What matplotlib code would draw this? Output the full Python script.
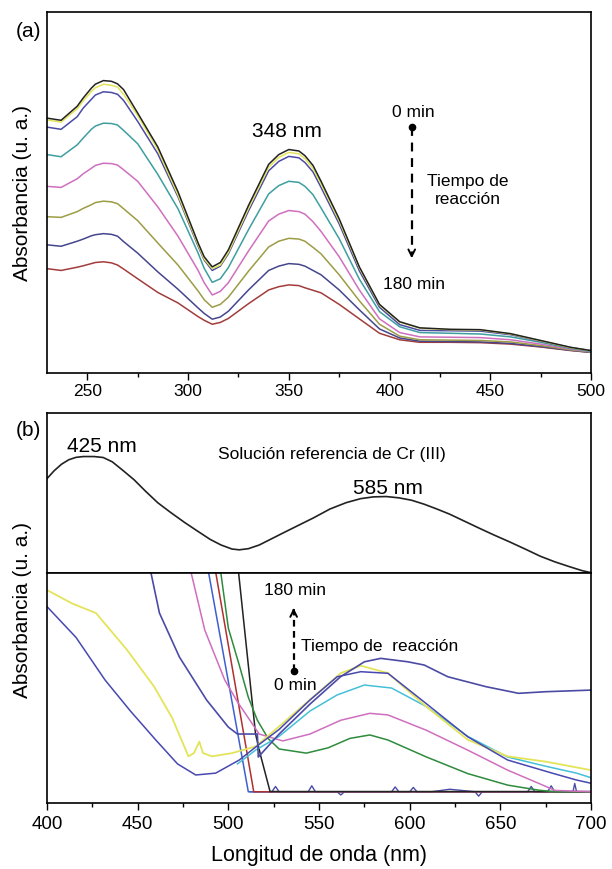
import matplotlib
matplotlib.use('Agg')
import matplotlib.pyplot as plt
from matplotlib.ticker import MultipleLocator

plt.rcParams['font.family'] = ['Liberation Sans', 'DejaVu Sans']

# ---- panel (a): spectra during reaction, 0 min (top) -> 180 min (bottom)
wl_a = [230, 237, 245, 248, 252, 254, 258, 262, 265, 268,
        275, 285, 295, 305, 308, 312, 316, 320, 330, 340,
        345, 350, 355, 358, 362, 366, 375, 385, 395, 405,
        415, 430, 445, 460, 475, 490, 500]
a_black = [.706, .700, .739, .762, .789, .800, .810, .808, .801, .785,
           .720, .626, .502, .360, .322, .294, .306, .341, .464, .578,
           .605, .619, .615, .602, .575, .531, .427, .294, .190, .142,
           .125, .121, .120, .109, .090, .071, .062]
a_yellow = [.701, .695, .732, .754, .780, .790, .800, .797, .792, .772,
            .713, .619, .493, .355, .316, .289, .299, .334, .456, .570,
            .597, .611, .607, .594, .567, .524, .421, .291, .188, .141,
            .124, .120, .119, .108, .089, .070, .062]
a_navy = [.681, .675, .710, .734, .758, .770, .779, .777, .772, .755,
          .697, .607, .488, .351, .313, .284, .296, .330, .449, .560,
          .586, .600, .596, .583, .557, .514, .413, .283, .182, .134,
          .118, .117, .116, .106, .088, .070, .062]
a_teal = [.605, .599, .632, .651, .675, .684, .692, .691, .687, .672,
          .635, .550, .455, .332, .290, .251, .261, .292, .397, .496,
          .519, .531, .528, .517, .494, .457, .372, .260, .170, .128,
          .112, .110, .108, .100, .085, .068, .060]
a_pink = [.517, .514, .538, .552, .567, .575, .581, .580, .576, .563,
          .531, .460, .379, .284, .250, .216, .226, .250, .338, .421,
          .440, .450, .447, .440, .419, .392, .322, .230, .150, .112,
          .100, .099, .098, .092, .080, .066, .059]
a_olive = [.433, .431, .447, .456, .466, .472, .476, .474, .469, .455,
           .422, .360, .299, .227, .203, .182, .190, .210, .282, .349,
           .365, .373, .371, .365, .348, .330, .272, .200, .135, .102,
           .092, .091, .090, .086, .076, .064, .058]
a_dkblue = [.355, .351, .365, .371, .380, .383, .386, .384, .379, .364,
            .332, .280, .232, .180, .165, .149, .155, .171, .230, .284,
            .296, .303, .301, .296, .284, .272, .230, .175, .122, .097,
            .088, .087, .086, .082, .073, .063, .057]
a_red = [.289, .284, .293, .297, .303, .306, .308, .305, .299, .288,
         .261, .223, .194, .156, .146, .135, .140, .151, .192, .230,
         .239, .244, .242, .236, .229, .222, .190, .150, .110, .092,
         .085, .085, .084, .080, .072, .062, .057]

# ---- panel (b) top: Cr(III) reference solution
wl_ref = [400, 404, 408, 412, 416, 420, 426, 431, 436, 442, 448, 454, 461, 468, 476, 483,
          490, 496, 502, 506, 511, 517, 524, 531, 539, 547, 556, 565, 573, 580, 587, 594,
          601, 608, 615, 622, 630, 638, 646, 655, 664, 672, 680, 688, 695, 700]
abs_ref = [.590, .640, .680, .708, .723, .728, .728, .722, .695, .640, .583, .515, .440, .380, .315, .262,
           .210, .175, .150, .145, .152, .175, .215, .255, .300, .345, .400, .440, .465, .476, .478, .470,
           .455, .430, .400, .368, .325, .282, .240, .195, .148, .105, .070, .040, .015, .002]

# ---- panel (b) bottom: spectra during reaction
wl_y = [400, 414, 427, 444, 459, 469, 478, 481, 484, 486, 491, 502, 515, 528, 545, 562, 573, 588, 609, 632, 654, 675, 700]
b_yellow = [0.926, 0.867, 0.826, 0.667, 0.507, 0.370, 0.203, 0.217, 0.267, 0.217, 0.203, 0.217, 0.246, 0.333,
            0.449, 0.565, 0.597, 0.565, 0.420, 0.275, 0.203, 0.180, 0.143]
wl_bl = [400, 416, 432, 446, 460, 472, 482, 493, 506, 515, 528, 545, 560, 573, 588, 609, 632, 654, 679, 692, 700]
b_blue = [0.854, 0.720, 0.535, 0.400, 0.274, 0.170, 0.122, 0.130, 0.187, 0.243, 0.320, 0.448, 0.549, 0.571,
          0.564, 0.433, 0.288, 0.187, 0.129, 0.100, 0.086]
wl_nv = [456, 462, 473, 488, 500, 505, 516, 516.5, 528, 545, 562, 575, 584, 599, 608, 621, 642, 660, 675, 700]
b_navy = [1.05, 0.826, 0.635, 0.448, 0.330, 0.300, 0.300, 0.200, 0.300, 0.430, 0.550, 0.614, 0.629, 0.614,
          0.600, 0.549, 0.506, 0.477, 0.484, 0.491]
wl_pk = [478, 487, 498, 505, 511, 517, 530, 545, 562, 578, 588, 609, 632, 654, 671, 680, 700]
b_pink = [1.05, 0.752, 0.535, 0.440, 0.370, 0.300, 0.270, 0.300, 0.360, 0.390, 0.383, 0.317, 0.230, 0.143,
          0.086, 0.055, 0.049]
wl_gr = [495, 500, 506, 511, 516, 522, 528, 543, 555, 567, 578, 588, 609, 632, 654, 671, 680, 700]
b_green = [1.05, 0.760, 0.600, 0.460, 0.360, 0.280, 0.235, 0.217, 0.240, 0.281, 0.296, 0.274, 0.201, 0.128,
           0.078, 0.056, 0.049, 0.049]
wl_cy = [505, 515, 528, 545, 560, 575, 590, 609, 632, 654, 675, 692, 700]
b_cyan = [0.170, 0.230, 0.290, 0.400, 0.470, 0.513, 0.500, 0.420, 0.290, 0.200, 0.160, 0.130, 0.110]
wl_b2 = [488, 511, 700]
b_blue2 = [1.05, 0.049, 0.049]
wl_rd = [492, 514, 700]
b_red = [1.05, 0.049, 0.049]
wl_bk = [505, 515, 518, 523, 700]
b_black = [1.05, 0.300, 0.200, 0.050, 0.050]
wl_base = [512, 524, 526, 528, 535, 544, 546, 548, 560, 562, 564, 572, 590, 592, 594, 600, 602, 604,
           612, 622, 636, 638, 640, 650, 665, 667, 669, 676, 678, 680, 690, 691, 692, 700]
b_base = [0.049, 0.049, 0.072, 0.049, 0.049, 0.049, 0.075, 0.049, 0.049, 0.035, 0.049, 0.049, 0.049, 0.070,
          0.049, 0.049, 0.068, 0.049, 0.049, 0.060, 0.049, 0.030, 0.049, 0.049, 0.049, 0.072, 0.049,
          0.049, 0.075, 0.049, 0.049, 0.085, 0.049, 0.049]

c_black = '#222222'
c_yellow = '#e4e45a'
c_navy = '#4b4ba6'
c_teal = '#3e9ea0'
c_pink = '#cf6fbf'
c_olive = '#9c9c45'
c_dkblue = '#46468e'
c_red = '#a23c3c'
c_blue = '#3d5fd0'
c_green = '#2e8b3c'
c_cyan = '#45c0d8'

fig = plt.figure(figsize=(6.12, 8.69), dpi=100)

# ---------------- (a)
ax = fig.add_axes([0.0768, 0.5708, 0.889, 0.4154])
for y, c in [(a_red, c_red), (a_dkblue, c_dkblue), (a_olive, c_olive), (a_pink, c_pink),
             (a_teal, c_teal), (a_navy, c_navy), (a_yellow, c_yellow), (a_black, c_black)]:
    ax.plot(wl_a, y, color=c, lw=1.1)
ax.set_xlim(230, 500)
ax.set_ylim(0, 1)
ax.set_yticks([])
ax.xaxis.set_major_locator(MultipleLocator(50))
ax.xaxis.set_minor_locator(MultipleLocator(25))
ax.tick_params(axis='x', which='major', direction='out', length=5, width=1, labelsize=12.5, pad=3)
ax.tick_params(axis='x', which='minor', direction='out', length=3, width=1)
for s in ax.spines.values():
    s.set_linewidth(1.2)
ax.text(349, 0.668, '348 nm', fontsize=15, ha='center', va='center')
ax.text(412, 0.722, '0 min', fontsize=12.5, ha='center', va='center')
ax.plot([411, 411], [0.682, 0.33], color='black', lw=1.6, ls=(0, (4, 3)))
ax.plot([411], [0.682], 'o', color='black', ms=4.5)
ax.annotate('', xy=(411, 0.31), xytext=(411, 0.34),
            arrowprops=dict(arrowstyle='->', color='black', lw=1.4, mutation_scale=12))
ax.text(439, 0.505, 'Tiempo de\nreacción', fontsize=12.5, ha='center', va='center', linespacing=1.3)
ax.text(412, 0.246, '180 min', fontsize=12.5, ha='center', va='center')
fig.text(0.026, 0.964, '(a)', fontsize=15, ha='left', va='center')
fig.text(0.036, 0.778, 'Absorbancia (u. a.)', fontsize=15, rotation=90, ha='center', va='center')

# ---------------- (b) top
ax1 = fig.add_axes([0.0768, 0.3406, 0.889, 0.1841])
ax1.plot(wl_ref, abs_ref, color=c_black, lw=1.2)
ax1.set_xlim(400, 700)
ax1.set_ylim(0, 1)
ax1.set_xticks([])
ax1.set_yticks([])
for s in ax1.spines.values():
    s.set_linewidth(1.2)
ax1.text(430, 0.79, '425 nm', fontsize=15, ha='center', va='center')
ax1.text(557, 0.74, 'Solución referencia de Cr (III)', fontsize=12.5, ha='center', va='center')
ax1.text(588, 0.53, '585 nm', fontsize=15, ha='center', va='center')
fig.text(0.026, 0.505, '(b)', fontsize=15, ha='left', va='center')

# ---------------- (b) bottom
ax2 = fig.add_axes([0.0768, 0.0759, 0.889, 0.2647])
ax2.plot(wl_base, b_base, color=c_navy, lw=1.0)
ax2.plot(wl_b2, b_blue2, color=c_blue, lw=1.1)
ax2.plot(wl_rd, b_red, color='#b03030', lw=1.1)
ax2.plot(wl_bk, b_black, color=c_black, lw=1.1)
ax2.plot(wl_gr, b_green, color=c_green, lw=1.1)
ax2.plot(wl_pk, b_pink, color=c_pink, lw=1.1)
ax2.plot(wl_cy, b_cyan, color=c_cyan, lw=1.1)
ax2.plot(wl_y, b_yellow, color=c_yellow, lw=1.3)
ax2.plot(wl_bl, b_blue, color='#4848b0', lw=1.1)
ax2.plot(wl_nv, b_navy, color=c_navy, lw=1.2)
ax2.set_xlim(400, 700)
ax2.set_ylim(0, 1)
ax2.set_yticks([])
ax2.xaxis.set_major_locator(MultipleLocator(50))
ax2.xaxis.set_minor_locator(MultipleLocator(25))
ax2.tick_params(axis='x', which='major', direction='out', length=5, width=1, labelsize=13.5, pad=4)
ax2.tick_params(axis='x', which='minor', direction='out', length=3, width=1)
for s in ax2.spines.values():
    s.set_linewidth(1.2)
ax2.set_xlabel('Longitud de onda (nm)', fontsize=15.5, labelpad=9)
ax2.text(537, 0.926, '180 min', fontsize=12.5, ha='center', va='center')
ax2.plot([536, 536], [0.575, 0.83], color='black', lw=1.6, ls=(0, (3, 2)))
ax2.plot([536], [0.575], 'o', color='black', ms=4.5)
ax2.annotate('', xy=(536, 0.86), xytext=(536, 0.82),
             arrowprops=dict(arrowstyle='->', color='black', lw=1.4, mutation_scale=12))
ax2.text(540, 0.68, 'Tiempo de  reacción', fontsize=12.5, ha='left', va='center')
ax2.text(537, 0.51, '0 min', fontsize=12.5, ha='center', va='center')

fig.text(0.036, 0.298, 'Absorbancia (u. a.)', fontsize=15, rotation=90, ha='center', va='center')

fig.savefig('out.png', dpi=100)
